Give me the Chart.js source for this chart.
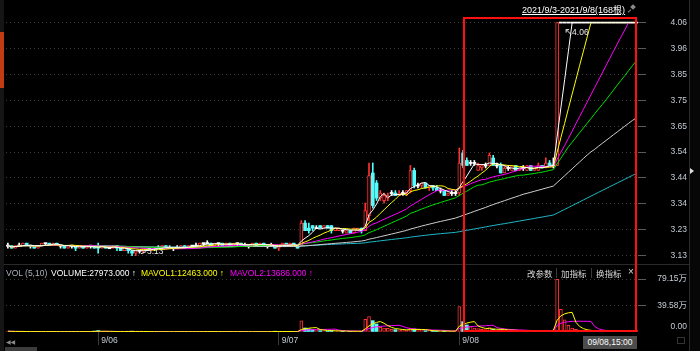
<!DOCTYPE html>
<html><head><meta charset="utf-8">
<script src="https://cdn.jsdelivr.net/npm/chart.js@4.4.1/dist/chart.umd.min.js"></script>
<style>
html,body{margin:0;padding:0;background:#000;}
body{width:700px;height:351px;overflow:hidden;position:relative;font-family:'Liberation Sans','Noto Sans CJK SC',sans-serif;}
canvas{position:absolute;left:0;}
#pc{top:0;width:687px;height:264px;}
#vc{top:265px;width:687px;height:86px;}
.t{position:absolute;white-space:nowrap;line-height:10px;}
.b{position:absolute;}
</style></head><body>
<div class="b" style="left:0;top:264px;width:689px;height:1px;background:#2a2a2a"></div>
<canvas id="pc" width="687" height="264"></canvas>
<canvas id="vc" width="687" height="86"></canvas>

<div class="b" style="left:0;top:0;width:4px;height:351px;background:#151515"></div>
<div class="b" style="left:0;top:32px;width:4px;height:56px;background:#c33b14"></div>
<div class="b" style="left:689px;top:0;width:1px;height:351px;background:#2c2c2c"></div>
<div class="b" style="left:690px;top:0;width:10px;height:351px;background:#070707"></div>
<div class="b" style="left:690px;top:168px;width:0;height:0;border-top:3px solid transparent;border-bottom:3px solid transparent;border-left:4px solid #dddddd"></div>

<div class="t" id="hdr" style="left:522px;top:5px;font-size:9px;color:#fff;text-decoration:underline"></div>
<div class="b" style="left:631px;top:5px;width:4px;height:4px;background:#8a8a8a;transform:rotate(45deg)"></div>
<div class="b" style="left:629px;top:9px;width:1px;height:4px;background:#8a8a8a;transform:rotate(45deg)"></div>

<div class="b" style="left:463px;top:17px;width:174px;height:315px;border:2px solid #ff1010;box-sizing:border-box"></div>

<div class="t" id="v0" style="left:6px;top:268px;font-size:8.5px;color:#a9b1ba"></div>
<div class="t" id="v1" style="left:51px;top:268px;font-size:8.5px;color:#ffffff"></div>
<div class="t" id="v2" style="left:141px;top:268px;font-size:8.5px;color:#ffff00"></div>
<div class="t" id="v3" style="left:230px;top:268px;font-size:8.5px;color:#ff00ff"></div>

<div class="t" style="left:527px;top:268px;font-size:8.5px;color:#d8d8d8;font-family:'Noto Sans CJK SC'">改参数</div>
<div class="b" style="left:556px;top:268px;width:1px;height:10px;background:#3a3a3a"></div>
<div class="t" style="left:561px;top:268px;font-size:8.5px;color:#d8d8d8;font-family:'Noto Sans CJK SC'">加指标</div>
<div class="b" style="left:591px;top:268px;width:1px;height:10px;background:#3a3a3a"></div>
<div class="t" style="left:596px;top:268px;font-size:8.5px;color:#d8d8d8;font-family:'Noto Sans CJK SC'">换指标</div>
<div class="t" style="left:628px;top:267px;font-size:10px;color:#d8d8d8">×</div>

<div class="t" style="left:583px;top:336px;width:54px;height:13px;line-height:13px;background:#4c4c4c;color:#fff;font-size:8.5px;text-align:center">09/08,15:00</div>
<div class="b" style="left:677px;top:337px;width:8px;height:7px;border:1px solid #333;box-sizing:border-box"></div>
<div class="t" style="left:6px;top:337px;font-size:6px;color:#8a8a8a;font-family:'DejaVu Sans'">◀◀</div>
<div class="b" style="left:5px;top:347px;width:32px;height:4px;background:#3c3c3c"></div>

<script>
// ---------------- data ----------------
const dayNames = ['9/03','9/06','9/07','9/08'];
const barsPerDay = [24,48,48,48];

const opens = [
 3.17,3.17,3.16,3.17,3.17,3.18,3.17,3.17,3.16,3.17,3.18,3.18,3.17,3.18,3.17,3.17,3.16,3.17,3.17,3.16,3.17,3.16,3.17,3.17,
 3.17,3.16,3.17,3.16,3.16,3.17,3.16,3.15,3.16,3.15,3.14,3.15,
 3.15,3.16,3.15,3.16,3.16,3.16,3.17,3.16,3.16,3.16,3.16,3.17,
 3.16,3.17,3.17,3.17,3.18,3.18,3.18,3.17,3.18,3.18,3.17,3.18,
 3.17,3.18,3.18,3.17,3.17,3.17,3.18,3.17,3.18,3.17,3.17,3.17,
 3.16,3.17,3.18,3.17,3.18,3.17,3.17,3.26,3.24,3.25,3.24,3.25,
 3.24,3.25,3.25,3.23,3.23,3.23,3.22,3.23,3.22,3.23,3.24,3.23,
 3.29,3.46,3.42,3.36,3.35,3.36,3.38,3.38,3.37,3.38,3.38,3.39,
 3.47,3.41,3.41,3.42,3.40,3.41,3.40,3.39,3.39,3.37,3.38,3.38,
 3.38,3.54,3.51,3.50,3.50,3.47,3.48,3.49,3.49,3.52,3.49,3.49,
 3.46,3.48,3.47,3.49,3.47,3.48,3.47,3.49,3.47,3.47,3.49,3.48,
 3.50,3.49,3.49,4.06,4.06,4.06,4.06,4.06,4.06,4.06,4.06,4.06,
 4.06,4.06,4.06,4.06,4.06,4.06,4.06,4.06,4.06,4.06,4.06,4.06
];
const highs = [
 3.18,3.17,3.17,3.18,3.18,3.18,3.17,3.17,3.17,3.18,3.18,3.18,3.18,3.18,3.17,3.17,3.17,3.17,3.17,3.17,3.17,3.17,3.17,3.17,
 3.18,3.17,3.17,3.17,3.17,3.17,3.16,3.16,3.16,3.15,3.15,3.15,
 3.16,3.16,3.16,3.16,3.17,3.17,3.17,3.17,3.16,3.17,3.17,3.17,
 3.17,3.17,3.18,3.18,3.18,3.19,3.18,3.18,3.18,3.18,3.18,3.18,
 3.18,3.18,3.18,3.18,3.17,3.18,3.18,3.18,3.18,3.17,3.18,3.17,
 3.17,3.18,3.18,3.18,3.18,3.17,3.27,3.27,3.26,3.25,3.25,3.25,
 3.25,3.25,3.25,3.24,3.24,3.23,3.23,3.23,3.24,3.24,3.24,3.34,
 3.50,3.50,3.43,3.39,3.38,3.38,3.39,3.39,3.39,3.39,3.39,3.49,
 3.48,3.42,3.42,3.42,3.41,3.41,3.41,3.40,3.39,3.38,3.39,3.39,
 3.56,3.55,3.52,3.51,3.51,3.50,3.49,3.50,3.54,3.53,3.50,3.50,
 3.49,3.49,3.49,3.49,3.48,3.49,3.49,3.49,3.48,3.50,3.49,3.52,
 3.51,3.52,4.06,4.06,4.06,4.06,4.06,4.06,4.06,4.06,4.06,4.06,
 4.06,4.06,4.06,4.06,4.06,4.06,4.06,4.06,4.06,4.06,4.06,4.06
];
const lows = [
 3.16,3.16,3.16,3.17,3.17,3.17,3.16,3.16,3.16,3.17,3.17,3.17,3.17,3.17,3.16,3.16,3.16,3.16,3.15,3.16,3.16,3.16,3.16,3.16,
 3.14,3.16,3.16,3.16,3.16,3.15,3.15,3.15,3.14,3.13,3.13,3.14,
 3.14,3.15,3.15,3.15,3.16,3.16,3.16,3.16,3.15,3.16,3.16,3.16,
 3.16,3.16,3.17,3.16,3.17,3.18,3.17,3.17,3.17,3.17,3.17,3.17,
 3.17,3.17,3.17,3.17,3.16,3.17,3.17,3.17,3.17,3.16,3.17,3.16,
 3.15,3.17,3.17,3.17,3.17,3.16,3.17,3.23,3.22,3.23,3.24,3.24,
 3.24,3.24,3.22,3.23,3.23,3.22,3.22,3.22,3.22,3.23,3.22,3.23,
 3.27,3.32,3.35,3.35,3.34,3.35,3.37,3.37,3.37,3.37,3.37,3.38,
 3.40,3.40,3.40,3.40,3.39,3.39,3.39,3.38,3.37,3.37,3.37,3.37,
 3.37,3.48,3.49,3.49,3.49,3.47,3.47,3.48,3.49,3.49,3.48,3.46,
 3.46,3.47,3.47,3.47,3.47,3.47,3.47,3.47,3.47,3.47,3.48,3.48,
 3.49,3.48,3.49,4.06,4.06,4.06,4.06,4.06,4.06,4.06,4.06,4.06,
 4.06,4.06,4.06,4.06,4.06,4.06,4.06,4.06,4.06,4.06,4.06,4.06
];
const closes = [
 3.17,3.16,3.17,3.17,3.18,3.17,3.17,3.16,3.17,3.18,3.18,3.17,3.18,3.17,3.17,3.16,3.17,3.17,3.16,3.17,3.16,3.17,3.17,3.16,
 3.16,3.17,3.16,3.16,3.17,3.16,3.15,3.16,3.15,3.14,3.15,3.15,
 3.16,3.15,3.16,3.16,3.16,3.17,3.16,3.16,3.16,3.16,3.17,3.16,
 3.17,3.17,3.17,3.18,3.18,3.18,3.17,3.18,3.18,3.17,3.18,3.17,
 3.18,3.18,3.17,3.17,3.17,3.18,3.17,3.18,3.17,3.17,3.17,3.16,
 3.17,3.18,3.17,3.18,3.17,3.16,3.26,3.23,3.23,3.24,3.24,3.24,
 3.25,3.24,3.23,3.24,3.24,3.23,3.23,3.22,3.24,3.24,3.23,3.31,
 3.45,3.33,3.36,3.38,3.37,3.37,3.38,3.37,3.38,3.38,3.39,3.47,
 3.41,3.41,3.42,3.40,3.41,3.40,3.39,3.39,3.37,3.38,3.38,3.38,
 3.50,3.49,3.49,3.50,3.50,3.49,3.49,3.49,3.53,3.49,3.49,3.46,
 3.48,3.48,3.49,3.47,3.48,3.48,3.49,3.47,3.48,3.49,3.48,3.50,
 3.49,3.49,4.06,4.06,4.06,4.06,4.06,4.06,4.06,4.06,4.06,4.06,
 4.06,4.06,4.06,4.06,4.06,4.06,4.06,4.06,4.06,4.06,4.06,4.06
];
const volumes = [
 12000,8000,6000,9000,5000,7000,4000,6000,8000,5000,6000,4000,7000,5000,3000,6000,4000,9000,5000,4000,6000,5000,7000,14000,
 22000,6000,5000,4000,8000,9000,6000,5000,10000,12000,7000,6000,
 5000,4000,6000,5000,3000,4000,5000,3000,4000,6000,5000,4000,
 3000,5000,4000,9000,6000,5000,4000,7000,5000,3000,4000,6000,
 5000,4000,3000,4000,5000,3000,4000,6000,5000,4000,8000,12000,
 9000,5000,4000,6000,5000,8000,165000,60000,45000,35000,25000,20000,
 18000,15000,22000,15000,12000,10000,12000,9000,14000,10000,9000,190000,
 230000,170000,120000,70000,60000,55000,40000,35000,30000,25000,30000,60000,
 45000,30000,25000,20000,15000,12000,15000,10000,18000,12000,10000,15000,
 380000,155000,105000,80000,60000,50000,40000,35000,65000,40000,25000,35000,
 30000,20000,25000,20000,15000,18000,22000,18000,12000,25000,15000,30000,
 20000,28000,785000,340000,180000,100000,60000,40000,30000,20000,15000,18000,
 12000,10000,14000,12545,16000,18000,14000,9000,8342,7000,10000,27973
];
const priceTickLabels = ['3.13','3.23','3.34','3.44','3.54','3.65','3.75','3.85','3.96','4.06'];
const volTickValues = [0, 395750, 791500];
const volTickLabels = ['0.00','39.58万','79.15万'];
const maPeriods = [5,10,20,30,60,120];
const mavolPeriods = [5,10];

// ---------------- styles ----------------
const UP='#ff3232', DOWN='#54fcfc', FLAT='#ffffff';
const maColors = ['#ffffff','#ffff00','#ff00ff','#00e000','#cfcfcf','#1fb8c8'];
const mavolColors = ['#ffff00','#ff00ff'];
const AXIS_TXT = '#c4ccd4', GRID = '#3c3c3c', TICK = '#5a5a5a';
Chart.defaults.font.family = "'Liberation Sans','Noto Sans CJK SC',sans-serif";
Chart.defaults.font.size = 8.5;

// ---------------- derived ----------------
const N = closes.length;
const labels = []; const dayStart = {};
dayNames.forEach((d,k)=>{ dayStart[labels.length]=d; for(let j=0;j<barsPerDay[k];j++) labels.push(d+' '+j); });

function movingAvg(arr,n){ return arr.map((_,i)=>{ const s=Math.max(0,i-n+1); let t=0; for(let j=s;j<=i;j++) t+=arr[j]; return t/(i-s+1); }); }

const kind = closes.map((c,i)=> c>opens[i]?1 : (c<opens[i]?-1:0));
const candleCol = kind.map(k=> k>0?UP:(k<0?DOWN:FLAT));
const bodyFill = kind.map(k=> k>0?'#000000':(k<0?DOWN:FLAT));
const bodyBW = kind.map(k=> k>0?1:0);
const bodyW = kind.map(k=> k===0?2.4:3);
const wickData = lows.map((l,i)=>[l,highs[i]]);
const bodyData = opens.map((o,i)=>{ let a=Math.min(o,closes[i]), b=Math.max(o,closes[i]); if(b-a<0.004){const m=(a+b)/2; a=m-0.0022; b=m+0.0022;} return [a,b]; });

const volUp = closes.map((c,i)=> c>opens[i] || (c===opens[i] && (i===0 || c>=closes[i-1])));
const volBorder = volUp.map(u=> u?UP:DOWN);
const volFill = volUp.map(u=> u?'#000000':DOWN);
const volBW = volUp.map(u=> u?1:0);

const priceTickVals = priceTickLabels.map((_,k)=> +priceTickLabels[0] + (+priceTickLabels[priceTickLabels.length-1] - +priceTickLabels[0])*k/(priceTickLabels.length-1));

// text from data
document.getElementById('hdr').textContent = '2021/9/3-2021/9/8(' + N + '根)';
const mv = mavolPeriods.map(p=>movingAvg(volumes,p));
document.getElementById('v0').textContent = 'VOL (' + mavolPeriods.join(',') + ')';
document.getElementById('v1').textContent = 'VOLUME:' + volumes[N-1].toFixed(3) + ' ↑';
document.getElementById('v2').textContent = 'MAVOL1:' + mv[0][N-1].toFixed(3) + ' ↑';
document.getElementById('v3').textContent = 'MAVOL2:' + mv[1][N-1].toFixed(3) + ' ↑';

// extremes annotation plugin
const extremes = {
  id:'extremes',
  afterDatasetsDraw(chart){
    const ctx = chart.ctx, xs = chart.scales.x, ys = chart.scales.y;
    let hi = 0, lo = 0;
    highs.forEach((h,i)=>{ if(h>highs[hi]) hi=i; });
    lows.forEach((l,i)=>{ if(l<lows[lo]) lo=i; });
    ctx.save();
    ctx.strokeStyle = '#e8e8e8'; ctx.fillStyle = '#e8e8e8'; ctx.lineWidth = 1;
    ctx.font = "8.5px 'Liberation Sans'"; ctx.textBaseline = 'middle'; ctx.textAlign = 'left';
    let x = xs.getPixelForValue(hi), y = ys.getPixelForValue(highs[hi]);
    ctx.beginPath(); ctx.moveTo(x+9, y+7); ctx.lineTo(x+14, y+12); ctx.moveTo(x+9,y+7); ctx.lineTo(x+12,y+7); ctx.moveTo(x+9,y+7); ctx.lineTo(x+9,y+10); ctx.stroke();
    ctx.fillText(highs[hi].toFixed(2), x+15, y+10);
    x = xs.getPixelForValue(lo); y = ys.getPixelForValue(lows[lo]);
    ctx.beginPath(); ctx.moveTo(x+9, y-2); ctx.lineTo(x+14, y-4); ctx.stroke();
    ctx.fillText(lows[lo].toFixed(2), x+15, y-4);
    ctx.restore();
  }
};

// ---------------- price chart ----------------
const maDatasets = maPeriods.map((p,k)=>({
  type:'line', data: movingAvg(closes,p), borderColor: maColors[k], borderWidth:1,
  pointRadius:0, tension:0, fill:false, order:k
}));

new Chart(document.getElementById('pc'), {
  type:'bar',
  data:{ labels, datasets:[
    { data: wickData, backgroundColor: candleCol, borderWidth:0, barThickness:1, grouped:false, order:20 },
    { data: bodyData, backgroundColor: bodyFill, borderColor: candleCol, borderWidth: bodyBW, borderSkipped:false, barThickness:3, grouped:false, order:19 },
    ...maDatasets
  ]},
  options:{
    responsive:false, animation:false, events:[],
    layout:{ padding:{ left:6, top:0, right:0, bottom:0 } },
    plugins:{ legend:{display:false}, tooltip:{enabled:false} },
    scales:{
      x:{ type:'category', display:false, offset:true, grid:{display:false} },
      y:{ position:'right', min:3.0969, max:4.1501,
        afterBuildTicks:(s)=>{ s.ticks = priceTickVals.map(v=>({value:v})); },
        afterFit:(s)=>{ s.width = 49; s.paddingTop = 0; s.paddingBottom = 0; },
        grid:{ color:GRID, lineWidth:1, drawTicks:true, tickLength:8, tickColor:TICK, tickBorderDash:[] },
        border:{ display:false, dash:[1,3] },
        ticks:{ crossAlign:'far', color:AXIS_TXT, font:{size:8.5}, autoSkip:false,
          callback:(v,i)=> priceTickLabels[i] }
      }
    }
  },
  plugins:[extremes]
});

// ---------------- volume chart ----------------
new Chart(document.getElementById('vc'), {
  type:'bar',
  data:{ labels, datasets:[
    { data: volumes, backgroundColor: volFill, borderColor: volBorder, borderWidth: volBW, borderSkipped:false, barThickness:3, grouped:false, order:10 },
    ...mavolPeriods.map((p,k)=>({ type:'line', data: mv[k], borderColor: mavolColors[k], borderWidth:1, pointRadius:0, tension:0, fill:false, order:k }))
  ]},
  options:{
    responsive:false, animation:false, events:[],
    layout:{ padding:{ left:6, top:1, right:0, bottom:0 } },
    plugins:{ legend:{display:false}, tooltip:{enabled:false} },
    scales:{
      x:{ type:'category', offset:true,
        grid:{ display:true, drawOnChartArea:false, drawTicks:true, tickLength:13, offset:false, tickWidth:1,
          tickColor:(c)=> (c.index>0 && dayStart[c.index]) ? '#3a3a3a' : 'rgba(0,0,0,0)' },
        border:{ display:false },
        ticks:{ autoSkip:false, maxRotation:0, minRotation:0, align:'start', padding:-9, labelOffset:3, color:AXIS_TXT, font:{size:8.5},
          callback:(v,i)=> (i>0 && dayStart[i]) ? dayStart[i] : '' },
        afterFit:(s)=>{ s.height = 19; s.paddingLeft = 0; s.paddingRight = 0; }
      },
      y:{ position:'right', min:0, max:985660,
        afterBuildTicks:(s)=>{ s.ticks = volTickValues.map(v=>({value:v})); },
        afterFit:(s)=>{ s.width = 49; s.paddingTop = 0; s.paddingBottom = 0; },
        grid:{ color:(c)=> (c.tick && c.tick.value===0) ? 'rgba(0,0,0,0)' : GRID, lineWidth:1, drawTicks:true, tickLength:8,
          tickColor:(c)=> (c.tick && c.tick.value===0) ? 'rgba(0,0,0,0)' : TICK, tickBorderDash:[] },
        border:{ display:false, dash:[1,3] },
        ticks:{ crossAlign:'far', color:AXIS_TXT, font:{size:8.5}, autoSkip:false,
          callback:(v,i)=> i===0 ? [volTickLabels[0], ''] : volTickLabels[i] }
      }
    }
  }
});
</script>
</body></html>
